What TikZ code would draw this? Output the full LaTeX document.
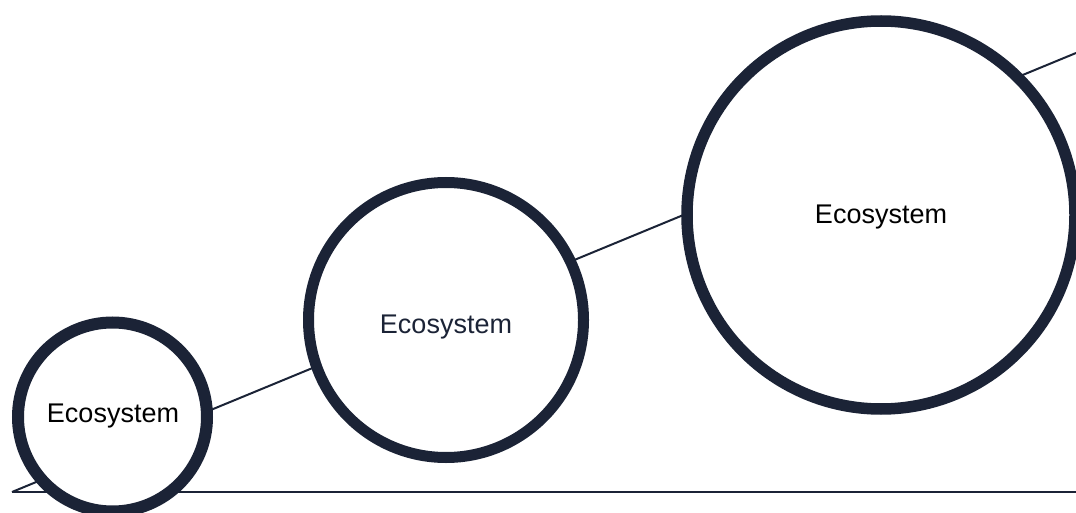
\documentclass[tikz,border=0pt]{standalone}
\usepackage{fontspec}
\setmainfont{Liberation Sans}
\definecolor{navy}{RGB}{27,35,54}
\begin{document}
\begin{tikzpicture}[x=1pt,y=-1pt,
  ring/.style={circle,draw=navy,fill=white,inner sep=0pt},
  connector/.style={draw=navy,line width=2pt},
  base/.style={draw=navy,line width=2.6pt},
  label text/.style={anchor=base,inner sep=0pt,font=\fontsize{27}{32}\selectfont}]
\useasboundingbox (0,0) rectangle (1076,513);
\clip (0,0) rectangle (1076,513);
\coordinate (ls) at (12,492);
\coordinate (le) at (1076,53);
\coordinate (hs) at (12,492);
\coordinate (he) at (1076,492);
\draw[connector] (ls) -- (le);
\draw[base] (hs) -- (he);
\node[ring,line width=12pt,minimum size=189pt] (c1) at (112.5,417) {};
\node[ring,line width=11pt,minimum size=275pt] (c2) at (446,320) {};
\node[ring,line width=11.5pt,minimum size=388pt] (c3) at (881,215) {};
\node[label text,text=black] (t1) at (113,422) {Ecosystem};
\node[label text,text=navy] (t2) at (446,333) {Ecosystem};
\node[label text,text=black] (t3) at (881,223) {Ecosystem};
\end{tikzpicture}
\end{document}
